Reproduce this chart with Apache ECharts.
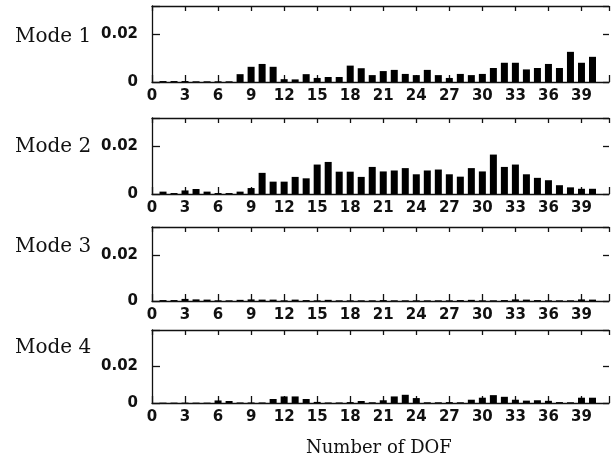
<!DOCTYPE html>
<html>
<head>
<meta charset="utf-8">
<script src="https://cdn.jsdelivr.net/npm/echarts@6/dist/echarts.min.js"></script>
<style>
  html, body { margin: 0; padding: 0; background: #fff; }
  #chart { width: 612px; height: 461px; }
</style>
</head>
<body>
<div id="chart"></div>
<script>
// Degree-of-freedom index (1..40) for every bar
const dof = [1,2,3,4,5,6,7,8,9,10,11,12,13,14,15,16,17,18,19,20,
             21,22,23,24,25,26,27,28,29,30,31,32,33,34,35,36,37,38,39,40];

const modeNames = ['Mode 1', 'Mode 2', 'Mode 3', 'Mode 4'];

const mode1 = [0.0004,0.0004,0.0004,0.0003,0.0003,0.0003,0.0003,0.0033,0.0064,0.0076,
               0.0064,0.0012,0.0011,0.0033,0.0017,0.0021,0.0021,0.0069,0.0058,0.0029,
               0.0046,0.0051,0.0034,0.0029,0.0051,0.0029,0.0017,0.0034,0.0029,0.0034,
               0.0059,0.0081,0.0081,0.0053,0.0059,0.0076,0.0059,0.0127,0.0081,0.0106];

const mode2 = [0.0010,0.0004,0.0015,0.0021,0.0010,0.0004,0.0004,0.0010,0.0025,0.0089,
               0.0052,0.0052,0.0072,0.0066,0.0124,0.0135,0.0094,0.0094,0.0072,0.0114,
               0.0095,0.0099,0.0109,0.0083,0.0099,0.0103,0.0083,0.0073,0.0109,0.0095,
               0.0166,0.0114,0.0124,0.0083,0.0068,0.0058,0.0037,0.0028,0.0022,0.0022];

const mode3 = [0.0004,0.0004,0.0009,0.0007,0.0006,0.0003,0.0003,0.0005,0.0007,0.0006,
               0.0006,0.0003,0.0006,0.0004,0.0003,0.0005,0.0003,0.0003,0.0003,0.0003,
               0.0004,0.0003,0.0003,0.0003,0.0003,0.0003,0.0003,0.0004,0.0005,0.0003,
               0.0003,0.0004,0.0007,0.0006,0.0004,0.0003,0.0003,0.0003,0.0007,0.0006];

const mode4 = [0.0002,0.0002,0.0002,0.0002,0.0002,0.0014,0.0011,0.0003,0.0003,0.0003,
               0.0022,0.0036,0.0036,0.0022,0.0006,0.0003,0.0003,0.0005,0.0011,0.0004,
               0.0015,0.0036,0.0045,0.0027,0.0004,0.0004,0.0005,0.0004,0.0018,0.0029,
               0.0043,0.0034,0.0018,0.0013,0.0015,0.0012,0.0005,0.0004,0.0029,0.0029];

const modeValues = [mode1, mode2, mode3, mode4];

// Y ranges and the labelled y ticks of each panel
const yMax = [0.032, 0.032, 0.032, 0.04];
const yTickLabels = ['0', '0.02'];
const xTickStep = 3;
const xLastLabel = 39;

// Panel placement (px)
const panels = [
  { top: 6,   height: 76, labelY: 37 },
  { top: 118, height: 76, labelY: 147 },
  { top: 227, height: 74, labelY: 247 },
  { top: 330, height: 73, labelY: 348 }
];

const ink = '#111';
const sans = 'DejaVu Sans';
const serif = 'DejaVu Serif';

const grid = [], xAxis = [], yAxis = [], series = [], graphic = [];

panels.forEach((p, k) => {
  grid.push({ left: 152, right: -1, top: p.top, height: p.height });

  // bottom axis with labels
  xAxis.push({
    type: 'value', gridIndex: k, min: 0, max: 41.5, interval: xTickStep,
    position: 'bottom',
    axisLine: { show: true, onZero: false, lineStyle: { color: ink, width: 1.3 } },
    axisTick: { show: true, inside: true, length: 7, lineStyle: { color: ink, width: 1.3 } },
    axisLabel: {
      show: true, margin: 7, color: ink, fontFamily: sans, fontWeight: 'bold', fontSize: 15,
      formatter: v => (v % xTickStep === 0 && v <= xLastLabel) ? String(v) : ''
    },
    splitLine: { show: false }
  });
  // top border with ticks
  xAxis.push({
    type: 'value', gridIndex: k, min: 0, max: 41.5, interval: xTickStep,
    position: 'top',
    axisLine: { show: true, onZero: false, lineStyle: { color: ink, width: 1.3 } },
    axisTick: { show: true, inside: true, length: 5, lineStyle: { color: ink, width: 1.3 } },
    axisLabel: { show: false },
    splitLine: { show: false }
  });

  // left axis with labels
  yAxis.push({
    type: 'value', gridIndex: k, min: 0, max: yMax[k], interval: 0.02,
    position: 'left',
    axisLine: { show: true, onZero: false, lineStyle: { color: ink, width: 1.3 } },
    axisTick: { show: true, inside: true, length: 8, lineStyle: { color: ink, width: 1.3 } },
    axisLabel: {
      show: true, margin: 14, color: ink, fontFamily: sans, fontWeight: 'bold', fontSize: 15,
      formatter: v => {
        const s = v === 0 ? '0' : (Math.abs(v - 0.02) < 1e-9 ? '0.02' : '');
        return yTickLabels.indexOf(s) >= 0 ? s : '';
      }
    },
    splitLine: { show: false }
  });
  // right side ticks
  yAxis.push({
    type: 'value', gridIndex: k, min: 0, max: yMax[k], interval: 0.02,
    position: 'right',
    axisLine: { show: false, onZero: false },
    axisTick: { show: true, inside: true, length: 6, lineStyle: { color: ink, width: 1.3 } },
    axisLabel: { show: false },
    splitLine: { show: false }
  });

  series.push({
    type: 'bar',
    xAxisIndex: 2 * k,
    yAxisIndex: 2 * k,
    barWidth: 7,
    itemStyle: { color: '#000' },
    silent: true,
    data: dof.map((d, i) => [d, modeValues[k][i]])
  });

  graphic.push({
    type: 'text', left: 15, top: p.labelY - 10,
    style: { text: modeNames[k], font: '20px "' + serif + '"', fill: ink }
  });
});

graphic.push({
  type: 'text', left: 306, top: 439,
  style: { text: 'Number of DOF', font: '18px "' + serif + '"', fill: ink }
});

const chart = echarts.init(document.getElementById('chart'), null, { renderer: 'canvas' });
chart.setOption({
  animation: false,
  backgroundColor: '#fff',
  grid, xAxis, yAxis, series, graphic
});
</script>
</body>
</html>
